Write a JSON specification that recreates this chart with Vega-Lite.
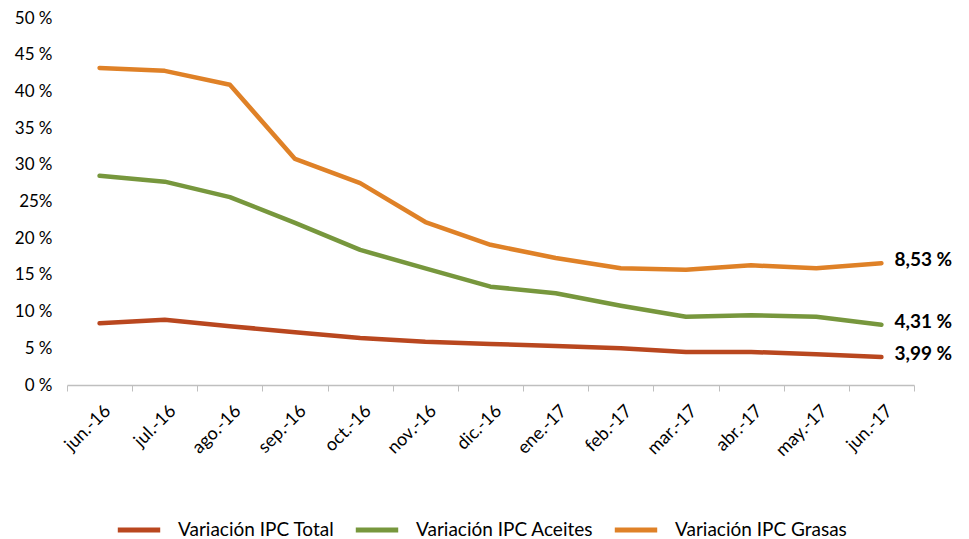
{
  "$schema": "https://vega.github.io/schema/vega-lite/v6.json",
  "width": 847,
  "height": 367,
  "autosize": {"type": "none"},
  "padding": {"left": 67, "top": 18, "right": 55, "bottom": 154},
  "background": "white",
  "config": {"view": {"stroke": null}, "font": "Lato"},
  "data": {"values": [
    {"mes": "jun.-16", "serie": "Variación IPC Total", "valor": 8.4},
    {"mes": "jul.-16", "serie": "Variación IPC Total", "valor": 8.9},
    {"mes": "ago.-16", "serie": "Variación IPC Total", "valor": 8.0},
    {"mes": "sep.-16", "serie": "Variación IPC Total", "valor": 7.2},
    {"mes": "oct.-16", "serie": "Variación IPC Total", "valor": 6.4},
    {"mes": "nov.-16", "serie": "Variación IPC Total", "valor": 5.9},
    {"mes": "dic.-16", "serie": "Variación IPC Total", "valor": 5.6},
    {"mes": "ene.-17", "serie": "Variación IPC Total", "valor": 5.3},
    {"mes": "feb.-17", "serie": "Variación IPC Total", "valor": 5.0},
    {"mes": "mar.-17", "serie": "Variación IPC Total", "valor": 4.5},
    {"mes": "abr.-17", "serie": "Variación IPC Total", "valor": 4.5},
    {"mes": "may.-17", "serie": "Variación IPC Total", "valor": 4.2},
    {"mes": "jun.-17", "serie": "Variación IPC Total", "valor": 3.8, "etiqueta": "3,99 %"},
    {"mes": "jun.-16", "serie": "Variación IPC Aceites", "valor": 28.5},
    {"mes": "jul.-16", "serie": "Variación IPC Aceites", "valor": 27.7},
    {"mes": "ago.-16", "serie": "Variación IPC Aceites", "valor": 25.6},
    {"mes": "sep.-16", "serie": "Variación IPC Aceites", "valor": 22.1},
    {"mes": "oct.-16", "serie": "Variación IPC Aceites", "valor": 18.4},
    {"mes": "nov.-16", "serie": "Variación IPC Aceites", "valor": 15.9},
    {"mes": "dic.-16", "serie": "Variación IPC Aceites", "valor": 13.4},
    {"mes": "ene.-17", "serie": "Variación IPC Aceites", "valor": 12.5},
    {"mes": "feb.-17", "serie": "Variación IPC Aceites", "valor": 10.8},
    {"mes": "mar.-17", "serie": "Variación IPC Aceites", "valor": 9.3},
    {"mes": "abr.-17", "serie": "Variación IPC Aceites", "valor": 9.5},
    {"mes": "may.-17", "serie": "Variación IPC Aceites", "valor": 9.3},
    {"mes": "jun.-17", "serie": "Variación IPC Aceites", "valor": 8.2, "etiqueta": "4,31 %"},
    {"mes": "jun.-16", "serie": "Variación IPC Grasas", "valor": 43.2},
    {"mes": "jul.-16", "serie": "Variación IPC Grasas", "valor": 42.8},
    {"mes": "ago.-16", "serie": "Variación IPC Grasas", "valor": 40.9},
    {"mes": "sep.-16", "serie": "Variación IPC Grasas", "valor": 30.8},
    {"mes": "oct.-16", "serie": "Variación IPC Grasas", "valor": 27.5},
    {"mes": "nov.-16", "serie": "Variación IPC Grasas", "valor": 22.2},
    {"mes": "dic.-16", "serie": "Variación IPC Grasas", "valor": 19.1},
    {"mes": "ene.-17", "serie": "Variación IPC Grasas", "valor": 17.3},
    {"mes": "feb.-17", "serie": "Variación IPC Grasas", "valor": 15.9},
    {"mes": "mar.-17", "serie": "Variación IPC Grasas", "valor": 15.7},
    {"mes": "abr.-17", "serie": "Variación IPC Grasas", "valor": 16.3},
    {"mes": "may.-17", "serie": "Variación IPC Grasas", "valor": 15.9},
    {"mes": "jun.-17", "serie": "Variación IPC Grasas", "valor": 16.6, "etiqueta": "8,53 %"}
  ]},
  "encoding": {
    "x": {
      "field": "mes", "type": "nominal", "sort": null,
      "scale": {"type": "band", "paddingInner": 0, "paddingOuter": 0},
      "axis": {
        "title": null, "labelAngle": -45, "labelAlign": "right", "labelBaseline": "middle",
        "labelFontSize": 18, "labelColor": "#000000", "labelPadding": 17, "labelOffset": 8,
        "tickBand": "extent", "tickSize": 6, "tickColor": "#BFBFBF", "domainColor": "#BFBFBF",
        "domainWidth": 1.5, "grid": false
      }
    },
    "y": {
      "field": "valor", "type": "quantitative",
      "scale": {"domain": [0, 50], "nice": false},
      "axis": {
        "title": null, "values": [0, 5, 10, 15, 20, 25, 30, 35, 40, 45, 50],
        "labelExpr": "datum.value == 25 ? '25%' : datum.value + ' %'",
        "domain": false, "ticks": false, "grid": false,
        "labelFontSize": 17, "labelColor": "#000000", "labelPadding": 15
      }
    }
  },
  "layer": [
    {
      "mark": {"type": "line", "strokeWidth": 4.5, "strokeCap": "round", "strokeJoin": "round"},
      "encoding": {
        "color": {
          "field": "serie", "type": "nominal",
          "scale": {
            "domain": ["Variación IPC Total", "Variación IPC Aceites", "Variación IPC Grasas"],
            "range": ["#B9471F", "#77973D", "#DF8127"]
          },
          "legend": {
            "title": null, "orient": "none", "direction": "horizontal",
            "legendX": 48, "legendY": 488,
            "symbolType": "stroke", "symbolStrokeWidth": 5, "symbolSize": 1800,
            "labelFontSize": 19, "labelColor": "#000000", "labelLimit": 400,
            "columnPadding": 10, "labelOffset": 15
          }
        }
      }
    },
    {
      "transform": [{"filter": "isValid(datum.etiqueta)"}],
      "mark": {"type": "text", "align": "left", "baseline": "middle", "dx": 13, "dy": -3, "fontSize": 19, "fontWeight": "bold", "color": "#000000"},
      "encoding": {"text": {"field": "etiqueta"}}
    }
  ]
}
